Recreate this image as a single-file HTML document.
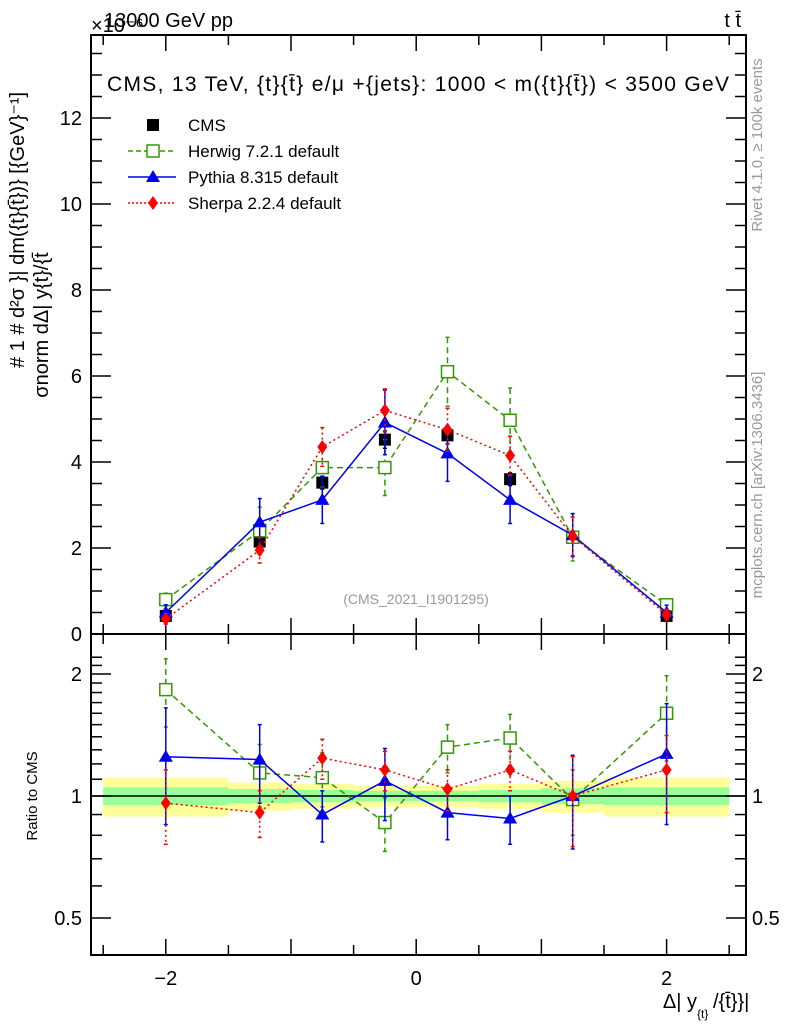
<!DOCTYPE html>
<html><head><meta charset="utf-8"><style>
body{margin:0;background:#fff;width:786px;height:1024px;overflow:hidden}
svg{font-family:"Liberation Sans",sans-serif}
</style></head><body>
<svg id="c" width="786" height="1024" xmlns="http://www.w3.org/2000/svg"></svg>
<script>
const xCenters=[-2,-1.25,-0.75,-0.25,0.25,0.75,1.25,2];
const binEdges=[-2.5,-1.5,-1,-0.5,0,0.5,1,1.5,2.5];
const cmsVals=[0.42,2.15,3.52,4.52,4.62,3.6,2.25,0.42];
const cmsErr=[0.05,0.12,0.15,0.2,0.2,0.15,0.12,0.05];
const herwigVals=[0.8,2.4,3.87,3.87,6.1,4.97,2.25,0.68];
const herwigErr=[0.15,0.55,0.45,0.65,0.8,0.75,0.55,0.12];
const pythiaVals=[0.5,2.6,3.12,4.92,4.2,3.12,2.3,0.5];
const pythiaErr=[0.18,0.55,0.55,0.75,0.65,0.55,0.5,0.17];
const sherpaVals=[0.35,1.95,4.35,5.2,4.75,4.15,2.27,0.45];
const sherpaErr=[0.12,0.3,0.45,0.5,0.5,0.45,0.45,0.12];
const herwigRatio=[1.83,1.14,1.11,0.86,1.32,1.39,0.98,1.6];
const herwigRatioErr=[0.35,0.2,0.17,0.13,0.18,0.2,0.18,0.38];
const pythiaRatio=[1.25,1.23,0.9,1.09,0.91,0.88,1.0,1.27];
const pythiaRatioErr=[0.4,0.27,0.13,0.22,0.13,0.12,0.26,0.42];
const sherpaRatio=[0.96,0.91,1.24,1.16,1.04,1.16,1.0,1.16];
const sherpaRatioErr=[0.2,0.12,0.14,0.13,0.12,0.13,0.25,0.25];
const bandYellow=[0.11,0.08,0.07,0.06,0.06,0.07,0.09,0.11];
const bandGreen=[0.05,0.04,0.035,0.03,0.03,0.035,0.045,0.05];
const yTicks=[0,2,4,6,8,10,12];
const rTicks=[0.5,1,2];
const xTicks=[-2,0,2];

const L=91,R=746,T=35,MB=634,RB=955;
const X=v=>416.2+v*125.2;
const Y=v=>634-v*43;
const RY=v=>796-Math.log2(v)*122;
const svg=document.getElementById('c');
const NS='http://www.w3.org/2000/svg';
function mk(tag,at,parent){const e=document.createElementNS(NS,tag);for(const k in at)e.setAttribute(k,at[k]);(parent||svg).appendChild(e);return e;}
function txt(s,x,y,sz,anchor,fill,name){const t=mk('text',{x:x,y:y,'font-size':sz,'text-anchor':anchor||'start',fill:fill||'#000'});t.textContent=s;


return t;}

for(let i=0;i<8;i++){
 const x1=X(binEdges[i]),x2=X(binEdges[i+1]);
 const y=mk('rect',{x:x1,y:RY(1+bandYellow[i]),width:x2-x1,height:RY(1-bandYellow[i])-RY(1+bandYellow[i]),fill:'#ffff99'});
 
 
 const g=mk('rect',{x:x1,y:RY(1+bandGreen[i]),width:x2-x1,height:RY(1-bandGreen[i])-RY(1+bandGreen[i]),fill:'#99ff99'});
 
 
}
mk('line',{x1:L,x2:R,y1:RY(1),y2:RY(1),stroke:'#000','stroke-width':1.5});

const f1=mk('rect',{x:L,y:T,width:R-L,height:MB-T,fill:'none',stroke:'#000','stroke-width':2});


const f2=mk('rect',{x:L,y:MB,width:R-L,height:RB-MB,fill:'none',stroke:'#000','stroke-width':2});



for(let v=-2.5;v<=2.51;v+=0.5){
 const big=Math.abs(v%1)<0.01;
 const h=big?16:10;
 [[MB,-1],[T,1],[RB,-1],[MB,1]].forEach(([y,d])=>mk('line',{x1:X(v),x2:X(v),y1:y,y2:y+d*h,stroke:'#000','stroke-width':1.5}));
}
xTicks.forEach(v=>txt(v<0?'\u2212'+(-v):String(v),X(v),985,20,'middle','#000','x-tick-label'));
for(let v=0;v<=14;v+=0.5){const big=v%2===0;const h=big?20:11;if(Y(v)<T)break;
 mk('line',{x1:L,x2:L+h,y1:Y(v),y2:Y(v),stroke:'#000','stroke-width':1.5});
 mk('line',{x1:R,x2:R-h,y1:Y(v),y2:Y(v),stroke:'#000','stroke-width':1.5});}
yTicks.forEach(v=>txt(String(v),82,Y(v)+7,20,'end','#000','y-tick-label'));
[0.5,0.6,0.7,0.8,0.9,1,1.1,1.2,1.3,1.4,1.5,1.6,1.7,1.8,1.9,2,2.1,2.2].forEach(v=>{const y=RY(v);if(y<MB||y>RB)return;const big=[0.5,1,2].includes(v);const h=big?20:11;
 mk('line',{x1:L,x2:L+h,y1:y,y2:y,stroke:'#000','stroke-width':1.5});
 mk('line',{x1:R,x2:R-h,y1:y,y2:y,stroke:'#000','stroke-width':1.5});});
rTicks.forEach(v=>{txt(String(v),82,RY(v)+7,20,'end','#000','ratio-tick-label');txt(String(v),752,RY(v)+7,20,'start','#000','ratio-tick-label-right');});

function series(vals,errs,yf,color,dash,marker,name){
 const g=mk('g',{});
 
 
 const pts=xCenters.map((x,i)=>X(x)+','+yf(vals[i])).join(' ');
 if(dash!==null)mk('polyline',{points:pts,fill:'none',stroke:color,'stroke-width':1.5,'stroke-dasharray':dash},g);
 xCenters.forEach((x,i)=>{const cx=X(x),y1=yf(vals[i]+errs[i]),y2=yf(Math.max(vals[i]-errs[i],0.01));
  mk('line',{x1:cx,x2:cx,y1:y1,y2:y2,stroke:color,'stroke-width':1.5,'stroke-dasharray':dash||'none'},g);
  mk('line',{x1:cx-2,x2:cx+2,y1:y1,y2:y1,stroke:color,'stroke-width':1.5},g);
  mk('line',{x1:cx-2,x2:cx+2,y1:y2,y2:y2,stroke:color,'stroke-width':1.5},g);
  drawMarker(marker,cx,yf(vals[i]),color,g);});
}
function drawMarker(m,cx,cy,color,g){
 if(m==='sq')mk('rect',{x:cx-6,y:cy-6,width:12,height:12,fill:'#000'},g);
 if(m==='osq')mk('rect',{x:cx-6,y:cy-6,width:12,height:12,fill:'#fff',stroke:color,'stroke-width':1.5},g);
 if(m==='tri')mk('polygon',{points:`${cx},${cy-7} ${cx-7},${cy+5} ${cx+7},${cy+5}`,fill:color},g);
 if(m==='dia')mk('polygon',{points:`${cx},${cy-7} ${cx-5},${cy} ${cx},${cy+7} ${cx+5},${cy}`,fill:color},g);
}
series(cmsVals,cmsErr,Y,'#000',null,'sq','cms-series');
series(herwigVals,herwigErr,Y,'#339900','6,4','osq','herwig-series');
series(pythiaVals,pythiaErr,Y,'#0000ee','','tri','pythia-series');
series(sherpaVals,sherpaErr,Y,'#ff0000','2,3','dia','sherpa-series');
series(herwigRatio,herwigRatioErr,RY,'#339900','6,4','osq','herwig-ratio');
series(pythiaRatio,pythiaRatioErr,RY,'#0000ee','','tri','pythia-ratio');
series(sherpaRatio,sherpaRatioErr,RY,'#ff0000','2,3','dia','sherpa-ratio');

const leg=[['CMS','#000',null,'sq'],['Herwig 7.2.1 default','#339900','5,3','osq'],['Pythia 8.315 default','#0000ee','','tri'],['Sherpa 2.2.4 default','#ff0000','2,2','dia']];
leg.forEach((l,i)=>{const y=125+i*26;
 if(l[2]!==null)mk('line',{x1:128,x2:176,y1:y,y2:y,stroke:l[1],'stroke-width':1.5,'stroke-dasharray':l[2]});
 drawMarker(l[3],153,y,l[1],svg);
 txt(l[0],188,y+6,17,'start','#000','legend-entry');});

const tt=txt('CMS, 13 TeV, {t}{t\u0304} e/\u03bc +{jets}: 1000 < m({t}{t\u0304}) < 3500 GeV',107,91,21,'start','#000','plot-title');
tt.setAttribute('textLength','622');
txt('13000 GeV pp',104,27,20,'start','#000','beam-label');
txt('\u00d710\u207b\u2076',91,32,20,'start','#000','y-multiplier');
txt('t t\u0304',741,27,20,'end','#000','process-label');
txt('(CMS_2021_I1901295)',416,604,14,'middle','#999','analysis-label');
txt('\u0394| y',697,1008,20,'end','#000','x-axis-title');
txt('{t}',697,1018,12,'start','#000','x-axis-sub');
txt('/{t\u0304}}|',713,1008,20,'start','#000','x-axis-title-2');
let t=txt('Ratio to CMS',0,0,15,'middle','#000','ratio-y-title');t.setAttribute('transform','translate(37,796) rotate(-90)');
t=txt('#  1  #   d\u00b2\u03c3    }| dm({t}{t\u0304})} [{GeV}\u207b\u00b9]',0,0,20,'middle','#000','y-axis-title');t.setAttribute('transform','translate(24,230) rotate(-90)');
t=txt('\u03c3norm  d\u0394| y{t}/{t\u0304',0,0,20,'middle','#000','y-axis-title-2');t.setAttribute('transform','translate(48,325) rotate(-90)');
t=txt('Rivet 4.1.0, \u2265 100k events',0,0,15,'middle','#999','rivet-label');t.setAttribute('transform','translate(762,145) rotate(-90)');
t=txt('mcplots.cern.ch [arXiv:1306.3436]',0,0,15,'middle','#999','mcplots-label');t.setAttribute('transform','translate(762,485) rotate(-90)');
</script>
</body></html>
